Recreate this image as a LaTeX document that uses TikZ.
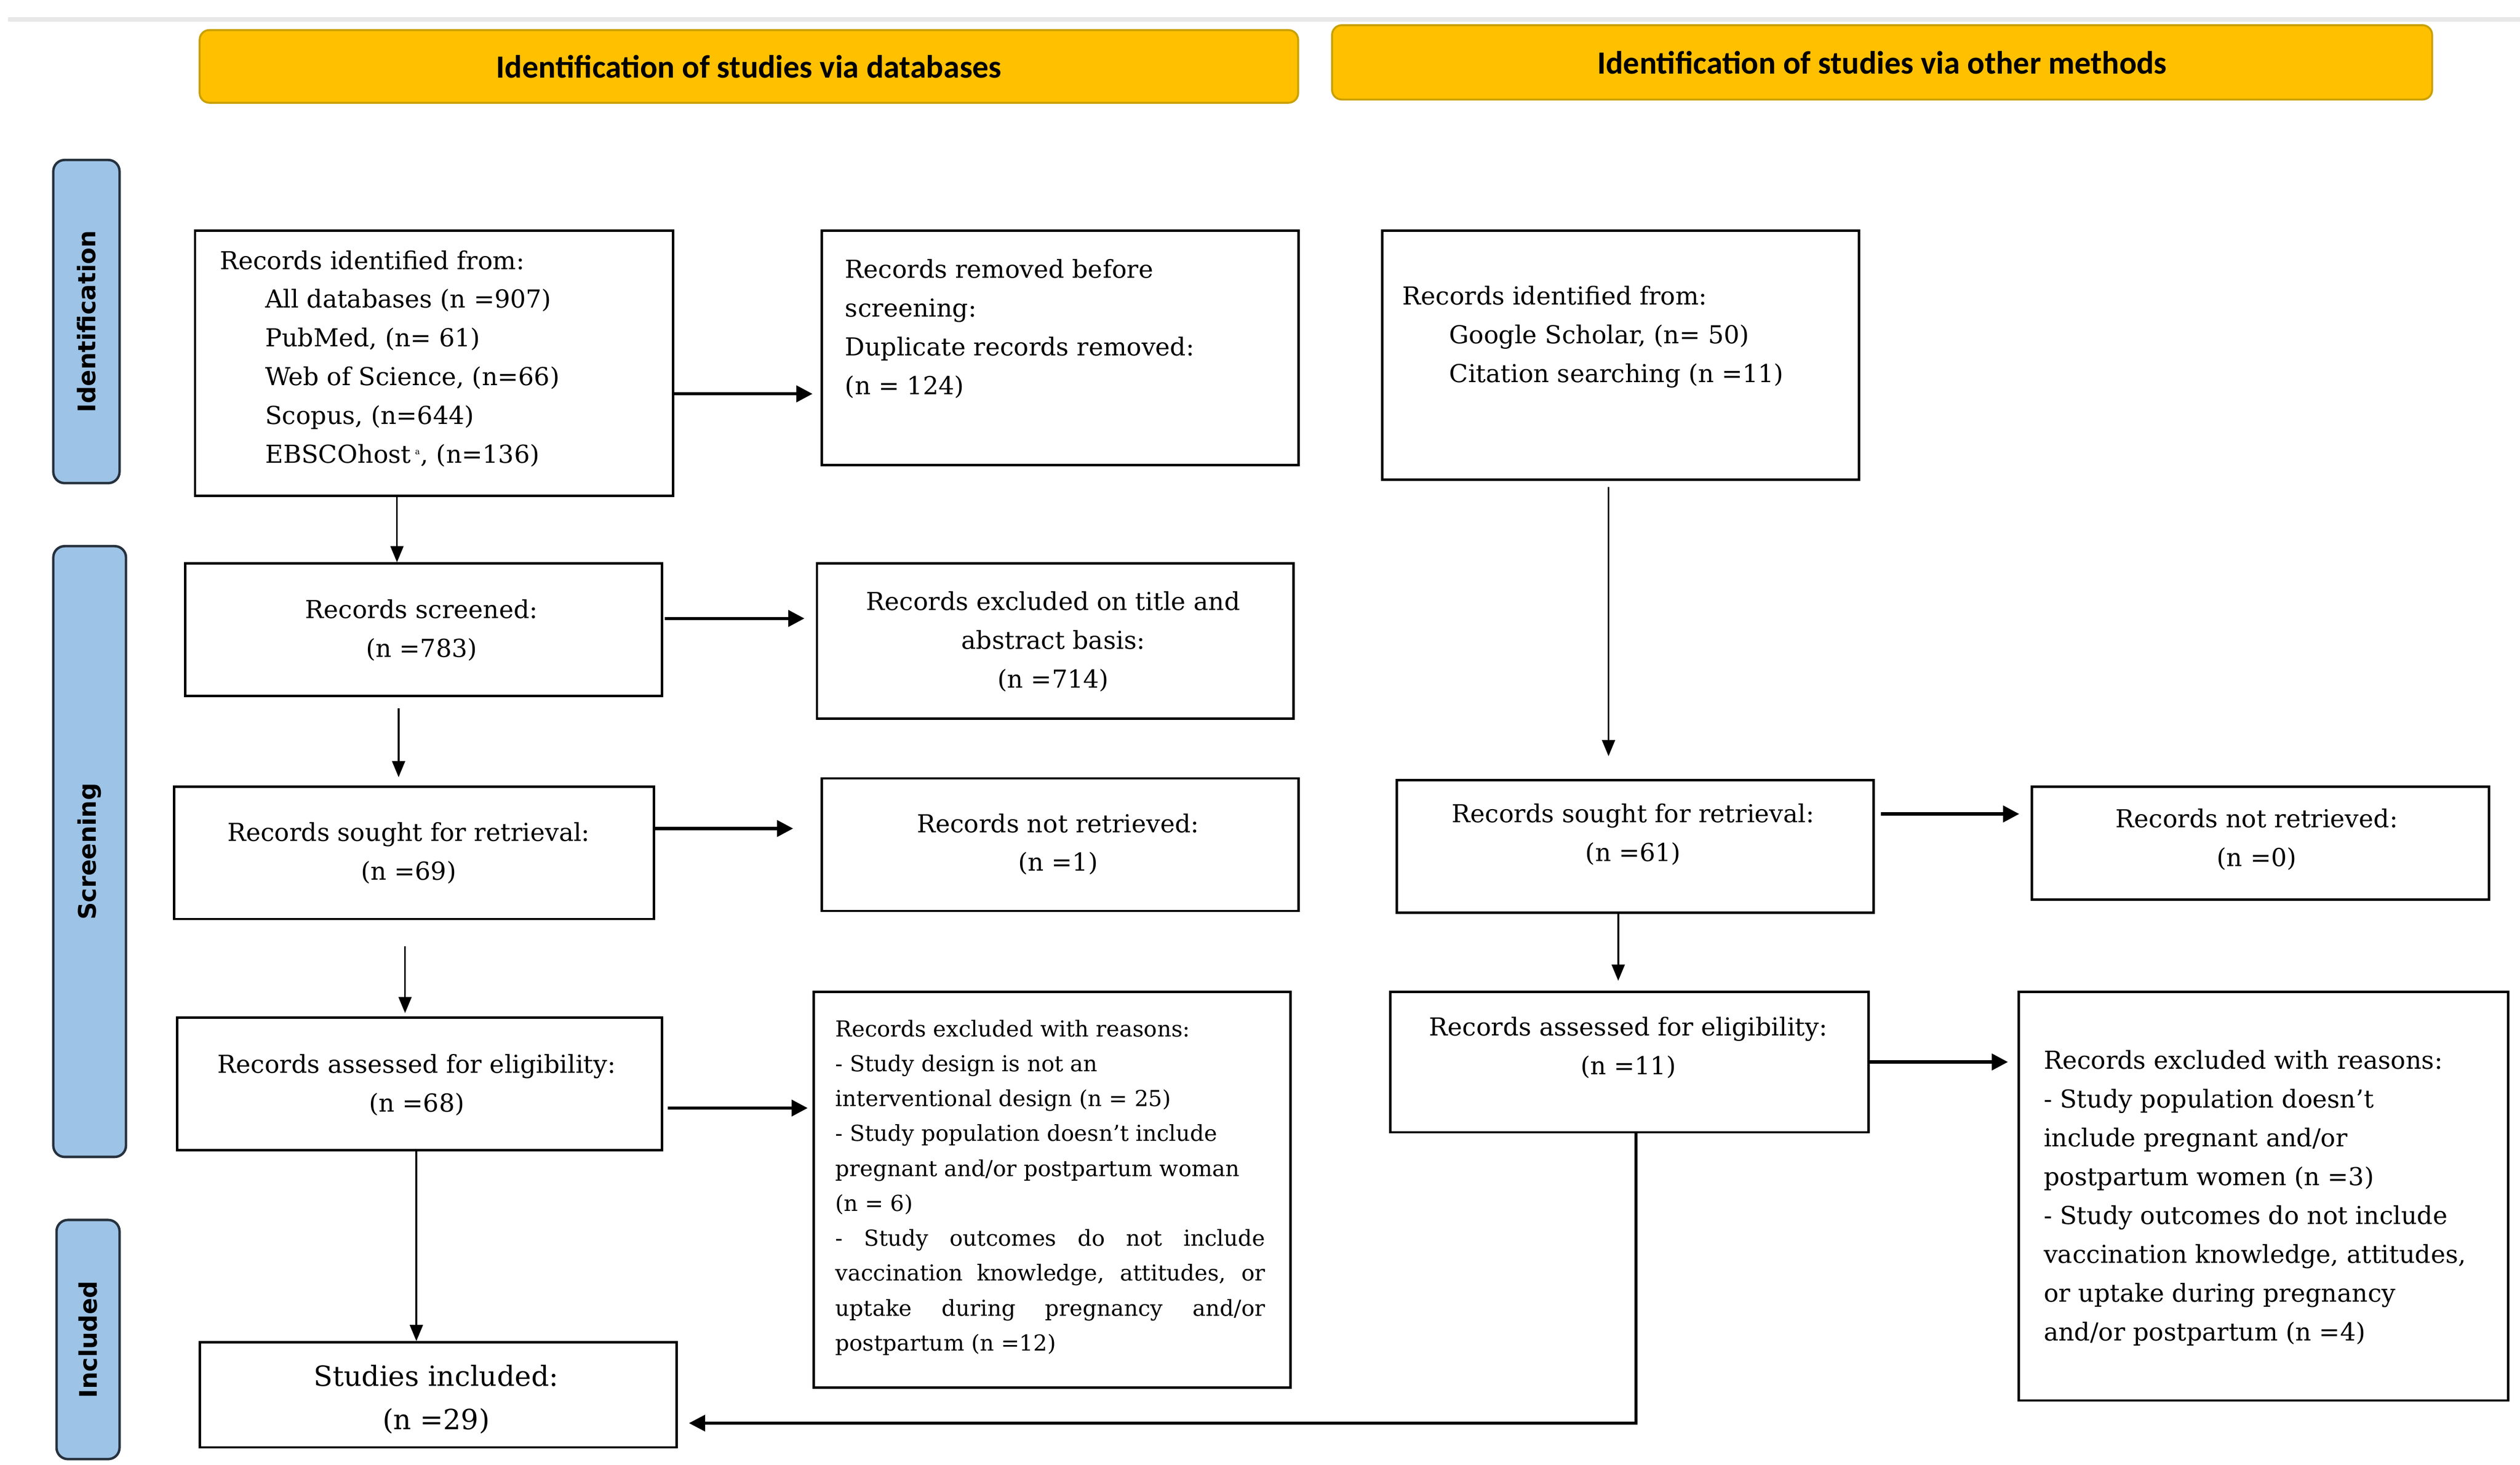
\documentclass[tikz,border=0pt]{standalone}
\usepackage{fontspec}
\setmainfont{DejaVu Serif}
\newfontfamily\bannerfont{Carlito}
\newfontfamily\sidefont{DejaVu Sans}
\usetikzlibrary{arrows.meta}
\definecolor{bannergold}{HTML}{FFC000}
\definecolor{bannerline}{HTML}{C9A000}
\definecolor{sideblue}{HTML}{9DC3E6}
\definecolor{sideline}{HTML}{26313D}
\definecolor{topgray}{HTML}{E8E8E8}
\newcommand\mainsz{\fontsize{15.3}{24}\selectfont}
\newcommand\smallsz{\fontsize{13.6}{21.6}\selectfont}
\newcommand\bigsz{\fontsize{17.2}{27}\selectfont}
\begin{document}
\begin{tikzpicture}[x=1pt,y=-1pt,
  box/.style={draw=black, line width=1.5pt, fill=white, inner sep=0pt, anchor=north west},
  banner/.style={draw=bannerline, fill=bannergold, line width=1.2pt, rounded corners=6pt, inner sep=0pt, anchor=north west,
    font=\bannerfont\bfseries\fontsize{20}{22}\selectfont},
  side/.style={draw=sideline, fill=sideblue, line width=1.5pt, rounded corners=7pt, inner sep=0pt, rotate=90,
    font=\sidefont\bfseries\fontsize{15}{16}\selectfont},
  ltxt/.style={inner sep=0pt, align=left, anchor=west, font=\mainsz},
  ctxt/.style={inner sep=0pt, align=center, anchor=center, font=\mainsz},
  harrow/.style={line width=2pt, -{Triangle[length=10pt,width=10pt]}},
  varrow/.style={line width=1.1pt, -{Triangle[length=10pt,width=8pt]}}
]
\useasboundingbox (0,0) rectangle (1560,906.5);
\draw[topgray, line width=3pt] (5,12) -- (1560,12);

% banners
\node[banner, minimum width=680pt, minimum height=45pt] (ban1) at (123,18) {Identification of studies via databases};
\node[banner, minimum width=681pt, minimum height=46pt] (ban2) at (824,15) {Identification of studies via other methods};

% side labels
\node[side, minimum width=200pt, minimum height=41pt] (sideid) at (53.5,199) {Identification};
\node[side, minimum width=378pt, minimum height=45pt] (sidescr) at (55.5,527) {Screening};
\node[side, minimum width=148pt, minimum height=39pt] (sideinc) at (54.5,829) {Included};

% left column boxes
\node[box, minimum width=296pt, minimum height=164pt] (b1) at (120,142) {};
\node[box, minimum width=295pt, minimum height=145pt] (b2) at (508,142) {};
\node[box, minimum width=295pt, minimum height=82pt] (b3) at (114,348) {};
\node[box, minimum width=295pt, minimum height=96pt] (b4) at (505,348) {};
\node[box, minimum width=297pt, minimum height=82pt] (b5) at (107,486) {};
\node[box, minimum width=295pt, minimum height=82pt] (b6) at (508,481) {};
\node[box, minimum width=300pt, minimum height=82pt] (b7) at (109,629) {};
\node[box, minimum width=295pt, minimum height=245pt] (b8) at (503,613) {};
\node[box, minimum width=295pt, minimum height=65pt] (b9) at (123,830) {};

% right column boxes
\node[box, minimum width=295pt, minimum height=154pt] (r1) at (855,142) {};
\node[box, minimum width=295pt, minimum height=82pt] (r2) at (864,482) {};
\node[box, minimum width=283pt, minimum height=70pt] (r3) at (1257,486) {};
\node[box, minimum width=296pt, minimum height=87pt] (r4) at (860,613) {};
\node[box, minimum width=303pt, minimum height=253pt] (r5) at (1249,613) {};

% texts
\node[ltxt] (b1t) at (136,222) {Records identified from:\\
\hspace*{28pt}All databases (n =907)\\
\hspace*{28pt}PubMed, (n= 61)\\
\hspace*{28pt}Web of Science, (n=66)\\
\hspace*{28pt}Scopus, (n=644)\\
\hspace*{28pt}EBSCOhost\,\textsuperscript{\tiny a}, (n=136)};
\node[ltxt] (b2t) at (523,203.5) {Records removed before\\screening:\\Duplicate records removed:\\(n = 124)};
\node[ctxt] (b3t) at (261,390) {Records screened:\\(n =783)};
\node[ctxt] (b4t) at (652,397) {Records excluded on title and\\abstract basis:\\(n =714)};
\node[ctxt] (b5t) at (253,528) {Records sought for retrieval:\\(n =69)};
\node[ctxt] (b6t) at (655,522.5) {Records not retrieved:\\(n =1)};
\node[ctxt] (b7t) at (258,671.5) {Records assessed for eligibility:\\(n =68)};
\node[ltxt, font=\smallsz] (b8t) at (517,735) {Records excluded with reasons:\\
- Study design is not an\\
interventional design (n = 25)\\
- Study population doesn’t include\\
pregnant and/or postpartum woman\\
(n = 6)\\
\makebox[266pt][s]{- Study outcomes do not include}\\
\makebox[266pt][s]{vaccination knowledge, attitudes, or}\\
\makebox[266pt][s]{uptake during pregnancy and/or}\\
postpartum (n =12)};
\node[ctxt, font=\bigsz] (b9t) at (270,866) {Studies included:\\(n =29)};

\node[ltxt] (r1t) at (868,208.5) {Records identified from:\\
\hspace*{29pt}Google Scholar, (n= 50)\\
\hspace*{29pt}Citation searching (n =11)};
\node[ctxt] (r2t) at (1011,516.5) {Records sought for retrieval:\\(n =61)};
\node[ctxt] (r3t) at (1397,519.5) {Records not retrieved:\\(n =0)};
\node[ctxt] (r4t) at (1008,648.5) {Records assessed for eligibility:\\(n =11)};
\node[ltxt] (r5t) at (1265,741.5) {Records excluded with reasons:\\
- Study population doesn’t\\
include pregnant and/or\\
postpartum women (n =3)\\
- Study outcomes do not include\\
vaccination knowledge, attitudes,\\
or uptake during pregnancy\\
and/or postpartum (n =4)};

% connectors, left column
\draw[harrow, shorten >=5pt] ([yshift=-19pt]b1.east) coordinate (p12) -- (b2.west |- p12);
\draw[varrow] ([xshift=-23pt]b1.south) coordinate (p13) -- (b3.north -| p13);
\draw[harrow, shorten <=1pt, shorten >=7pt] ([yshift=7pt]b3.east) coordinate (p34) -- (b4.west |- p34);
\draw[varrow, shorten <=7pt, shorten >=5pt] ([xshift=-15.5pt]b3.south) coordinate (p35) -- (b5.north -| p35);
\draw[harrow, shorten >=17pt] ([yshift=15pt]b5.east) coordinate (p56) -- (b6.west |- p56);
\draw[varrow, shorten <=16pt, shorten >=2pt] ([xshift=-5.5pt]b5.south) coordinate (p57) -- (b7.north -| p57);
\draw[harrow, shorten <=3pt, shorten >=3pt] ([yshift=-15pt]b7.east) coordinate (p78) -- (b8.west |- p78);
\draw[varrow] ([xshift=-2pt]b7.south) coordinate (p79) -- (b9.north -| p79);

% connectors, right column
\draw[varrow, shorten <=4pt, shorten >=14pt] ([xshift=-7.5pt]r1.south) coordinate (q12) -- (r2.north -| q12);
\draw[harrow, shorten <=4pt, shorten >=7pt] ([yshift=20pt]r2.east) coordinate (q23) -- (r3.west |- q23);
\draw[varrow, shorten >=6pt] ([xshift=-10.5pt]r2.south) coordinate (q24) -- (r4.north -| q24);
\draw[harrow, shorten >=6pt] (r4.east) -- (r5.west |- r4.east);
\draw[harrow, line width=1.6pt, shorten >=7pt] ([xshift=4pt]r4.south) |- ([yshift=-17.5pt]b9.east);
\end{tikzpicture}
\end{document}
